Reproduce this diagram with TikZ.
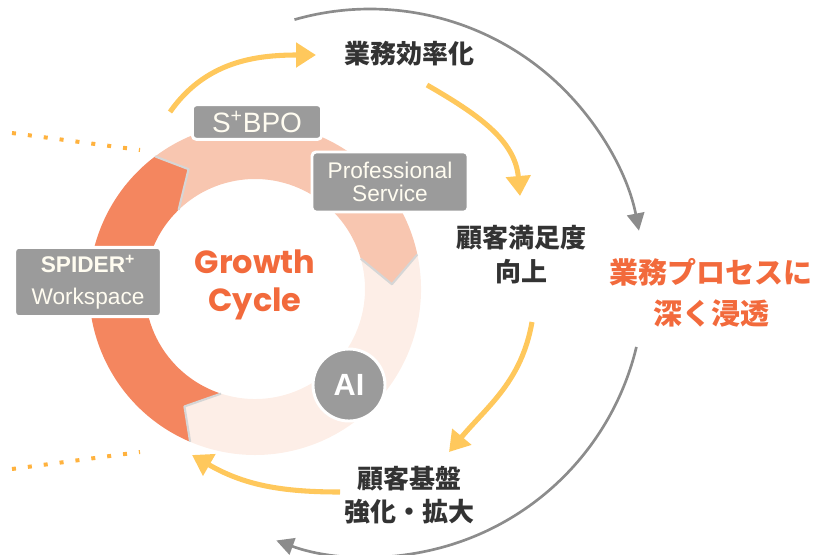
\documentclass[tikz,border=0pt]{standalone}
\usepackage{fontspec}
\usepackage{tikz}
\usetikzlibrary{arrows.meta}
\newfontfamily\jpfont{Noto Sans CJK JP}
\newfontfamily\boxfont{Liberation Sans}
\newfontfamily\cyclefont{Poppins}

\definecolor{ringdark}{HTML}{F4865F}
\definecolor{ringpeach}{HTML}{F8C6B0}
\definecolor{ringlight}{HTML}{FDEEE7}
\definecolor{boxgray}{HTML}{9B9B9B}
\definecolor{boxtext}{HTML}{FFFCF0}
\definecolor{cycleorange}{HTML}{F26A3C}
\definecolor{jptext}{HTML}{333333}
\definecolor{flowyellow}{HTML}{FFC85C}
\definecolor{loopgray}{HTML}{8C8C8C}
\definecolor{dotorange}{HTML}{FFB23E}

\tikzset{
	label box/.style={fill=boxgray, draw=white, line width=2.2pt, rounded corners=3pt,
		text=boxtext, inner sep=0pt, align=center},
	step text/.style={text=jptext, align=center,
		font={\jpfont\bfseries\fontsize{19.5}{25.5}\selectfont}},
	flow arrow/.style={flowyellow, line width=3.8pt, -{Triangle[length=15pt,width=18pt]}},
	loop arrow/.style={loopgray, line width=2pt, -{Triangle[length=13pt,width=13pt]}},
	guide dots/.style={dotorange, line width=3pt, dash pattern=on 3pt off 9pt},
	notch/.style={black!16, line width=1.6pt, line join=round},
}

\begin{document}
\begin{tikzpicture}[x=0.75pt,y=0.75pt]
	\useasboundingbox (0,0) rectangle (816,-554);

	% Draw outer loop arrows
	\draw[loop arrow] (370,-283) ++(106:274) arc[start angle=106,end angle=11,radius=274];
	\draw[loop arrow] (370,-283) ++(-13.5:274) arc[start angle=-13.5,end angle=-110,radius=274];

	% Draw dotted guides
	\draw[guide dots] (12,-133) -- (140,-150);
	\draw[guide dots] (12,-469) -- (140,-452);

	% Draw ring segments
	\begin{scope}[shift={(255,-289)}]
		\fill[ringpeach] (127:166) arc[start angle=127,end angle=12,radius=166] -- (2:137)
			-- (16:110) arc[start angle=16,end angle=134,radius=110] -- (119:137) -- cycle;
		\fill[ringlight] (12:166) arc[start angle=12,end angle=-113,radius=166] -- (-121:137)
			-- (-108:110) arc[start angle=-108,end angle=16,radius=110] -- (2:137) -- cycle;
		\fill[ringdark] (247:166) arc[start angle=247,end angle=127,radius=166] -- (119:137)
			-- (134:110) arc[start angle=134,end angle=252,radius=110] -- (239:137) -- cycle;
		\draw[notch] (127:166) -- (119:137) -- (134:110);
		\draw[notch] (12:166) -- (2:137) -- (16:110);
		\draw[notch] (-113:166) -- (-121:137) -- (-108:110);
	\end{scope}

	% Draw labels on the ring
	\node[label box, minimum width=97pt, minimum height=26pt,
		font={\boxfont\fontsize{21}{24}\selectfont}] (bpo) at (257,-122) {S\textsuperscript{+}BPO};
	\node[label box, minimum width=117pt, minimum height=45pt,
		font={\boxfont\fontsize{17}{17.5}\selectfont}] (pro) at (390,-182) {Professional\\Service};
	\node[label box, minimum width=110pt, minimum height=52pt,
		font={\boxfont\fontsize{17}{24}\selectfont}] (spider) at (88,-282) {\bfseries SPIDER\textsuperscript{+}\\Workspace};
	\node[circle, fill=boxgray, draw=white, line width=2.2pt, minimum size=54pt, inner sep=0pt,
		text=white, font={\boxfont\bfseries\fontsize{23}{23}\selectfont}] (ai) at (349,-385) {AI};
	\node[text=cycleorange, align=center,
		font={\cyclefont\bfseries\fontsize{24}{29}\selectfont}] (cycle) at (255,-285) {Growth\\Cycle};

	% Draw step texts
	\node[step text] (eff) at (409,-54) {業務効率化};
	\node[step text] (sat) at (521,-255) {顧客満足度\\向上};
	\node[step text, font={\jpfont\bfseries\fontsize{19.5}{24.75}\selectfont}] (base) at (409,-495) {顧客基盤\\強化・拡大};
	\node[align=center, text=cycleorange,
		font={\jpfont\bfseries\fontsize{21.75}{30.75}\selectfont}] (proc) at (711,-293) {業務プロセスに\\深く浸透};

	% Draw flow arrows
	\coordinate (f1a) at (170,-112);
	\coordinate (f1b) at (316,-55);
	\coordinate (f2a) at (427,-85);
	\coordinate (f2b) at (520,-196);
	\coordinate (f3a) at (532,-322);
	\coordinate (f3b) at (449,-452);
	\coordinate (f4a) at (340,-492);
	\coordinate (f4b) at (192,-455);
	\draw[flow arrow] (f1a) to[out=55,in=180] (f1b);
	\draw[flow arrow] (f2a) to[out=-30,in=95] (f2b);
	\draw[flow arrow] (f3a) to[out=-100,in=50] (f3b);
	\draw[flow arrow] (f4a) to[out=180,in=-30] (f4b);

\end{tikzpicture}
\end{document}
